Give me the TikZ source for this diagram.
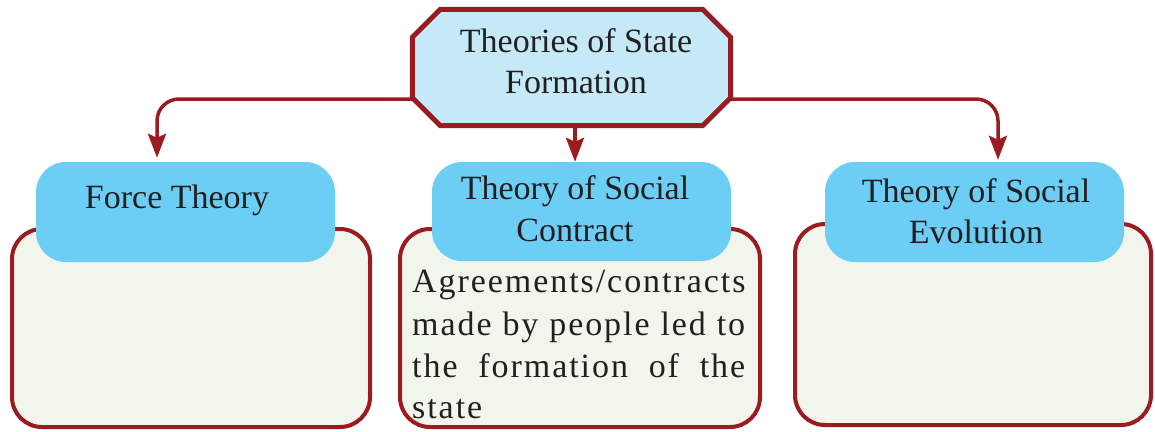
\documentclass[tikz,border=0pt]{standalone}
\usepackage{fontspec}
\setmainfont{Liberation Serif}
\newfontfamily\bodyfont[LetterSpace=5.7]{Liberation Serif}
\usetikzlibrary{arrows.meta}
\definecolor{dred}{HTML}{9A1B20}
\definecolor{topblue}{HTML}{C6E9F8}
\definecolor{boxblue}{HTML}{6CCDF5}
\definecolor{boxgreen}{HTML}{F2F5EB}
\definecolor{ink}{HTML}{231F20}
\tikzset{
  outerbox/.style={draw=dred, line width=4pt, fill=boxgreen, rounded corners=30pt, inner sep=0pt},
  headbox/.style={fill=boxblue, rounded corners=30pt, inner sep=0pt},
  topbox/.style={inner sep=0pt},
  octa/.style={draw=dred, line width=5pt, fill=topblue, line join=miter},
  headtxt/.style={anchor=base, inner sep=0pt, text=ink, font=\fontsize{34}{42}\selectfont},
  bodytxt/.style={anchor=base west, inner sep=0pt, text=ink, font=\bodyfont\fontsize{34}{42}\selectfont},
  conn/.style={draw=dred, line width=3.5pt, rounded corners=22pt, -{Stealth[length=24pt,width=18pt,inset=4pt]}}
}
\begin{document}
\begin{tikzpicture}[x=1pt,y=-1pt]
\useasboundingbox (0,0) rectangle (1155,431);
% outer boxes
\node[outerbox, minimum width=358pt, minimum height=198pt] (fbody) at (191,328) {};
\node[outerbox, minimum width=360pt, minimum height=198pt] (cbody) at (580,328) {};
\node[outerbox, minimum width=356pt, minimum height=201pt] (ebody) at (973,324.5) {};
% head boxes
\node[headbox, minimum width=299pt, minimum height=100pt] (force) at (185.5,212) {};
\node[headbox, minimum width=299pt, minimum height=99pt] (contract) at (581.5,211.5) {};
\node[headbox, minimum width=299pt, minimum height=100pt] (evol) at (974.5,212) {};
% top
\node[topbox, minimum width=318pt, minimum height=116pt] (top) at (571.5,67.5) {};
\draw[octa] ([xshift=28pt]top.north west) -- ([xshift=-28pt]top.north east)
  -- ([yshift=-28pt]top.north east) -- ([yshift=28pt]top.south east)
  -- ([xshift=-28pt]top.south east) -- ([xshift=28pt]top.south west)
  -- ([yshift=28pt]top.south west) -- ([yshift=-28pt]top.north west) -- cycle;
% texts
\node[headtxt] (t1) at (576,52) {Theories of State};
\node[headtxt] (t2) at (576,93) {Formation};
\node[headtxt] (f1) at (177,208) {Force Theory};
\node[headtxt] (c1) at (575,199) {Theory of Social};
\node[headtxt] (c2) at (575,241) {Contract};
\node[headtxt] (e1) at (976,202) {Theory of Social};
\node[headtxt] (e2) at (976,243) {Evolution};
\node[bodytxt] (b1) at (412,292) {\makebox[333pt][s]{Agreements/contracts}};
\node[bodytxt] (b2) at (412,335) {\makebox[333pt][s]{made by people led to}};
\node[bodytxt] (b3) at (412,377) {\makebox[333pt][s]{the formation of the}};
\node[bodytxt] (b4) at (412,418) {state};
% connectors
\draw[conn] ([yshift=-31.5pt]top.west) -| ([xshift=-28.5pt,yshift=4pt]force.north);
\draw[conn] ([yshift=-31.5pt]top.east) -| ([xshift=23.5pt,yshift=2pt]evol.north);
\draw[conn] ([xshift=3.5pt]top.south) -- ([xshift=-6.5pt]contract.north);
\end{tikzpicture}
\end{document}
